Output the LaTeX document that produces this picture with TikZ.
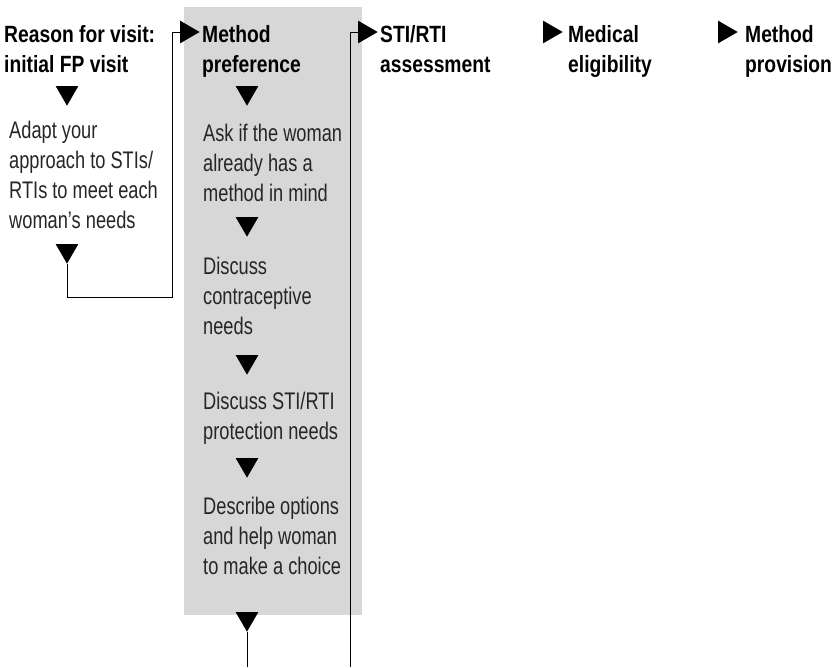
\documentclass[tikz,border=0pt]{standalone}
\usepackage{fontspec}
\usepackage{xcolor}
\usetikzlibrary{shapes.geometric}
\newfontfamily\bodyfont{Liberation Sans}[FakeStretch=0.76]
\newfontfamily\headfont{Liberation Sans}[FakeStretch=0.82]
\definecolor{panelgrey}{RGB}{215,215,215}
\tikzset{
  head/.style={anchor=base west, inner sep=0pt, align=left,
    font=\headfont\bfseries\fontsize{23.5}{30}\selectfont},
  body/.style={anchor=base west, inner sep=0pt, align=left, text=black!85,
    font=\bodyfont\fontsize{24}{30}\selectfont},
  down/.style={regular polygon, regular polygon sides=3, shape border rotate=180,
    fill=black, inner sep=0pt, minimum size=26pt, anchor=north},
  fwd/.style={regular polygon, regular polygon sides=3, shape border rotate=-90,
    fill=black, inner sep=0pt, minimum size=26pt, anchor=west},
  link/.style={line width=1pt, black}
}

\begin{document}
\begin{tikzpicture}[x=1pt,y=-1pt]
%\draw[help lines,step=50] (0,0) grid (832,667);
\useasboundingbox (0,0) rectangle (832,667);
\fill[panelgrey] (184,7) rectangle (362,615);

% headings (base = last line)
\node[head] (reason) at (4,72) {Reason for visit:\\initial FP visit};
\node[head] (mpref) at (202,72) {Method\\preference};
\node[head] (sti) at (380,72) {STI/RTI\\assessment};
\node[head] (medel) at (568,72) {Medical\\eligibility};
\node[head] (mprov) at (745,72) {Method\\provision};

\node[fwd] (fw1) at (180,32) {};
\node[fwd] (fw2) at (358,32) {};
\node[fwd] (fw3) at (543,32) {};
\node[fwd] (fw4) at (718,32) {};

% first visit column
\node[down] (dr1) at (67,86) {};
\node[body] (adapt) at (9,228) {Adapt your\\approach to STIs/\\RTIs to meet each\\woman’s needs};
\node[down] (dr2) at (67,244) {};

% method preference column
\node[down] (dm1) at (247,86) {};
\node[body] (ask) at (203,201) {Ask if the woman\\already has a\\method in mind};
\node[down] (dm2) at (247,217) {};
\node[body] (needs) at (203,334) {Discuss\\contraceptive\\needs};
\node[down] (dm3) at (247,355) {};
\node[body] (prot) at (203,439) {Discuss STI/RTI\\protection needs};
\node[down] (dm4) at (247,458) {};
\node[body] (choice) at (203,574) {Describe options\\and help woman\\to make a choice};
\node[down] (dm5) at (247,612) {};

\coordinate (jA) at (172,297);
\coordinate (endA) at (247,667);
\coordinate (endB) at (350,667);

\draw[link] (dr2.south) |- (jA) |- (fw1.west);
\draw[link] (dm5.south) -- (endA);
\draw[link] (endB) |- (fw2.west);
\end{tikzpicture}
\end{document}
